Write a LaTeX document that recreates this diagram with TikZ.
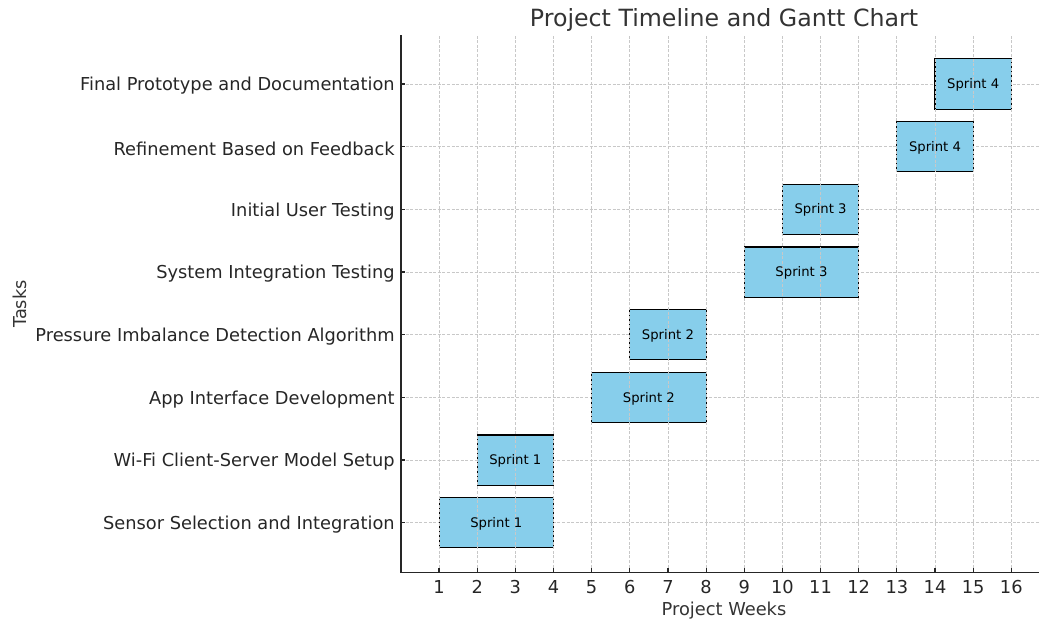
\documentclass[tikz,border=0pt]{standalone}
\usepackage{fontspec}
\setmainfont{DejaVu Sans}
\definecolor{barfill}{RGB}{135,206,235}
\definecolor{gridc}{RGB}{200,200,200}
\definecolor{txtc}{RGB}{38,38,38}
\definecolor{titc}{RGB}{51,51,51}
\tikzset{
  gridline/.style={draw=gridc, line width=0.8pt, dash pattern=on 3pt off 1.6pt},
  barbox/.style={draw=black, fill=barfill, line width=1.1pt, inner sep=0pt, rectangle},
  barlab/.style={font=\fontsize{13.2}{15}\selectfont, text=black, inner sep=0pt},
  spine/.style={draw=txtc, line width=1.2pt},
  ticklab/.style={font=\fontsize{17.8}{21}\selectfont, text=txtc, inner sep=0pt},
  axlab/.style={font=\fontsize{17.8}{21}\selectfont, text=titc, inner sep=0pt},
  titlab/.style={font=\fontsize{23.7}{28}\selectfont, text=titc, inner sep=0pt}
}
\begin{document}
\begin{tikzpicture}[x=1pt,y=-1pt]
\useasboundingbox (0,0) rectangle (1039,619);
\begin{scope}[shift={(400.9,522.7)}, x=38.15pt, y=62.67pt]
  % horizontal grid
  \foreach \i in {0,...,7} \draw[gridline] (0,\i) -- (16.73,\i);
  % bars
  \foreach \n/\s/\e/\i in {b1/1/4/0, b2/2/4/1, b3/5/8/2, b4/6/8/3, b5/9/12/4, b6/10/12/5, b7/13/15/6, b8/14/16/7}
    \node[barbox, minimum width={(\e-\s)*38.15pt}, minimum height={0.8*62.67pt}] (\n) at ({(\s+\e)/2},\i) {};
  % vertical grid
  \foreach \w in {1,...,16} \draw[gridline] (\w,-0.79) -- (\w,7.78);
  % bar labels
  \foreach \n/\t in {b1/Sprint 1, b2/Sprint 1, b3/Sprint 2, b4/Sprint 2, b5/Sprint 3, b6/Sprint 3, b7/Sprint 4, b8/Sprint 4}
    \node[barlab] (\n t) at (\n.center) [yshift=-1pt] {\t};
  % spines
  \coordinate (top) at (0,7.78);
  \coordinate (origin) at (0,-0.79);
  \coordinate (xend) at (16.73,-0.79);
  \draw[spine] (top) -- (origin) -- (xend);
  % x ticks
  \foreach \w in {1,...,16} {
    \draw[spine] (\w,-0.79) -- ++(0,4pt);
    \node[ticklab] (xt\w) at (\w,-0.79) [yshift=-14.5pt] {\w};
  }
  % y ticks
  \foreach \i/\t in {0/Sensor Selection and Integration, 1/Wi-Fi Client-Server Model Setup, 2/App Interface Development, 3/Pressure Imbalance Detection Algorithm, 4/System Integration Testing, 5/Initial User Testing, 6/Refinement Based on Feedback, 7/Final Prototype and Documentation} {
    \draw[spine] (0,\i) -- ++(4pt,0);
    \node[ticklab, anchor=east] (yt\i) at (0,\i) [xshift=-6pt, yshift=-2pt] {\t};
  }
\end{scope}
\node[titlab] (title) at (724,20) {Project Timeline and Gantt Chart};
\node[axlab] (xlab) at (724,611) {Project Weeks};
\node[axlab, rotate=90] (ylab) at (20,304) {Tasks};
\end{tikzpicture}
\end{document}
